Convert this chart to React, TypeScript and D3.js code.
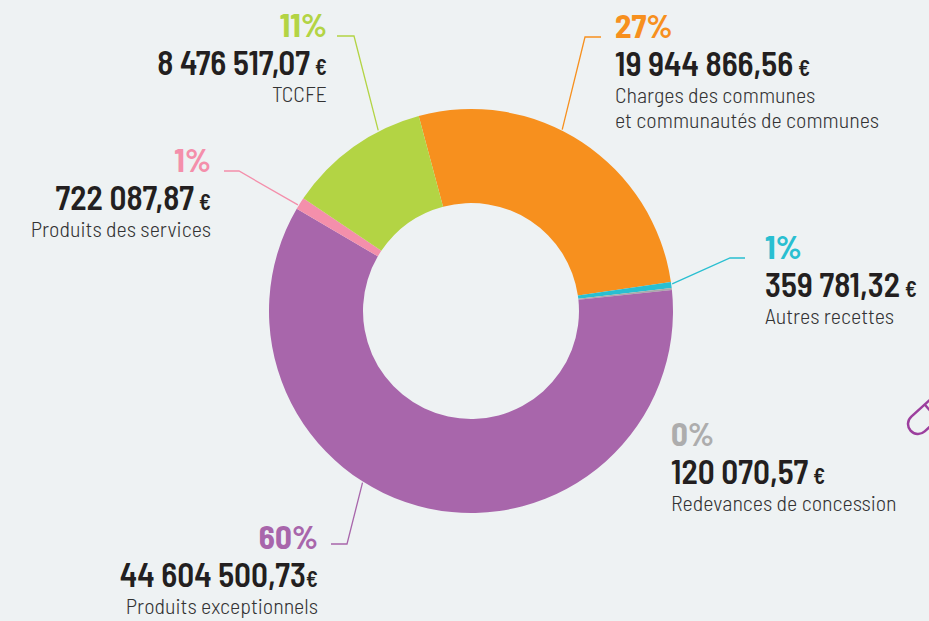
import React from 'react';
import * as d3 from 'd3';

// recettes par catégorie (en euros)
const categories = ['Charges des communes|et communautés de communes', 'Autres recettes', 'Redevances de concession', 'Produits exceptionnels', 'Produits des services', 'TCCFE'];
const values = [19944866.56, 359781.32, 120070.57, 44604500.73, 722087.87, 8476517.07];
const percentLabels = ['27%', '1%', '0%', '60%', '1%', '11%'];
const colors = ['#f7901e', '#29bfd1', '#a9a9a9', '#a866ab', '#f48fab', '#b3d444'];
const pctColors = ['#f7901e', '#29bfd1', '#adadad', '#a866ab', '#f48fab', '#b3d444'];

// where each label sits (text anchor, elbow of the leader line, angle where it touches the ring)
const labelLayout = [
  {x: 615, y: 38, anchor: 'start', elbow: [601, 585], leaderAngle: 26.7, euroGap: true},
  {x: 765, y: 259, anchor: 'start', elbow: [745, 730], leaderAngle: 82.3, euroGap: true},
  {x: 671, y: 446, anchor: 'start', elbow: null, leaderAngle: 0, euroGap: true},
  {x: 318, y: 549, anchor: 'end', elbow: [331, 347], leaderAngle: 212.3, euroGap: false},
  {x: 211, y: 172, anchor: 'end', elbow: [224, 239], leaderAngle: 301.5, euroGap: true},
  {x: 327, y: 37, anchor: 'end', elbow: [337, 354], leaderAngle: 332.8, euroGap: true},
];

const fr = d3.formatLocale({decimal: ',', thousands: ' ', grouping: [3], currency: ['', ' €']});
const fmt = fr.format(',.2f');

const W = 929, H = 621;
const cx = 471, cy = 311;
const outerR = 202, innerR = 108;
const font = "'Barlow Semi Condensed', Roboto, sans-serif";

export default function App() {
  const pie = d3.pie<number>().sort(null).value(d => d)
    .startAngle(-15 * Math.PI / 180).endAngle(345 * Math.PI / 180);
  const arcs = pie(values);
  const arc = d3.arc<d3.PieArcDatum<number>>().innerRadius(innerR).outerRadius(outerR);

  const rad = (deg: number) => deg * Math.PI / 180;

  return (
    <svg width={W} height={H} style={{position: 'fixed', left: 0, top: 0, background: '#eef2f3'}}>
      <rect width={W} height={H} fill="#eef2f3" />
      <g transform={'translate(' + cx + ',' + cy + ')'}>
        {arcs.map((a, i) => (
          <path key={i} d={arc(a) || ''} fill={colors[i]} />
        ))}
      </g>

      {labelLayout.map((l, i) => {
        if (!l.elbow) return null;
        const a = rad(l.leaderAngle);
        const ex = cx + (outerR + 1) * Math.sin(a);
        const ey = cy - (outerR + 1) * Math.cos(a);
        const ly = l.y - 1 + (i === 3 ? -4 : 0);
        const pts = [[l.elbow[0], ly], [l.elbow[1], ly], [ex, ey]];
        return <path key={'l' + i} d={d3.line()(pts as [number, number][]) || ''}
                     fill="none" stroke={colors[i]} strokeWidth={1.3} />;
      })}

      {labelLayout.map((l, i) => {
        const lines = categories[i].split('|');
        return (
          <g key={'t' + i} fontFamily={font} textAnchor={l.anchor}>
            <text x={l.x} y={l.y} fontSize={33} fontWeight={700} fill={pctColors[i]}>{percentLabels[i]}</text>
            <text transform={'translate(' + l.x + ',' + (l.y + 38) + ') scale(0.98,1)'}
                  fontSize={34} fontWeight={600} fill="#231f20">
              {fmt(values[i])}
              <tspan fontSize={22} dx={l.euroGap ? 5 : 0}>€</tspan>
            </text>
            {lines.map((s, j) => (
              <text key={j} x={l.x} y={l.y + 65 + j * 25}
                    fontSize={22} fontWeight={300} fill="#333">{s}</text>
            ))}
          </g>
        );
      })}

      <g transform="translate(918,424) rotate(-42)" fill="none" stroke="#9c3f9e" strokeWidth={2.5}>
        <rect x={-10} y={-10} width={90} height={20} rx={10} />
        <line x1={18} y1={-10} x2={18} y2={10} />
      </g>
    </svg>
  );
}
